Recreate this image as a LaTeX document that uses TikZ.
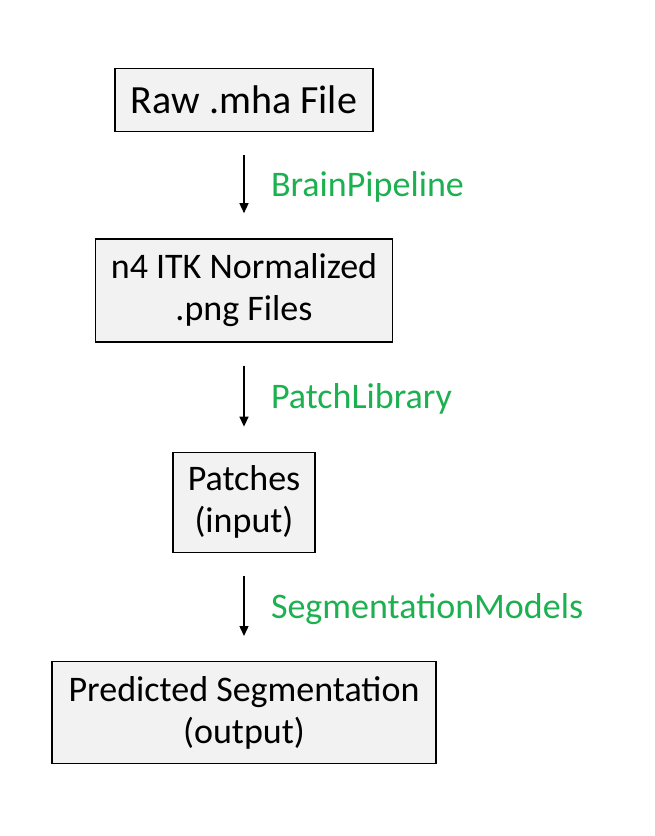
\documentclass[tikz,border=0pt]{standalone}
\usepackage{fontspec}
\setmainfont{Carlito}
\usetikzlibrary{arrows.meta,positioning}
\definecolor{boxgray}{HTML}{F2F2F2}
\definecolor{labelgreen}{HTML}{1DB050}

\begin{document}
\begin{tikzpicture}[
 x=1pt, y=-1pt, node distance=106pt, >={Triangle[length=10pt,width=9pt]},
 font=\fontsize{36}{42}\selectfont,
 box/.style={draw, line width=1.4pt, fill=boxgray, align=center, inner sep=2pt},
 step label/.style={text=labelgreen, font=\fontsize{36}{40}\selectfont, right=23pt, anchor=west, yshift=-2pt},
 flow/.style={draw, ->, line width=1.4pt, shorten <=23pt, shorten >=25pt}]
\useasboundingbox (0,0) rectangle (654,836);
\node[box, minimum width=258pt, minimum height=63pt, font=\fontsize{40}{44}\selectfont] (raw) at (244,100) {Raw .mha File};
\node[box, below=of raw, minimum width=297pt, minimum height=103pt] (norm) {n4 ITK Normalized\\ .png Files};
\node[box, below=109pt of norm, minimum width=142pt, minimum height=100pt] (patch) {Patches\\ (input)};
\node[box, below=108pt of patch, minimum width=384pt, minimum height=102pt] (pred) {Predicted Segmentation\\ (output)};
\draw[flow] (raw) -- (norm) node[midway, step label]{BrainPipeline};
\draw[flow] (norm) -- (patch) node[midway, step label]{PatchLibrary};
\draw[flow] (patch) -- (pred) node[midway, step label]{SegmentationModels};
\end{tikzpicture}
\end{document}
